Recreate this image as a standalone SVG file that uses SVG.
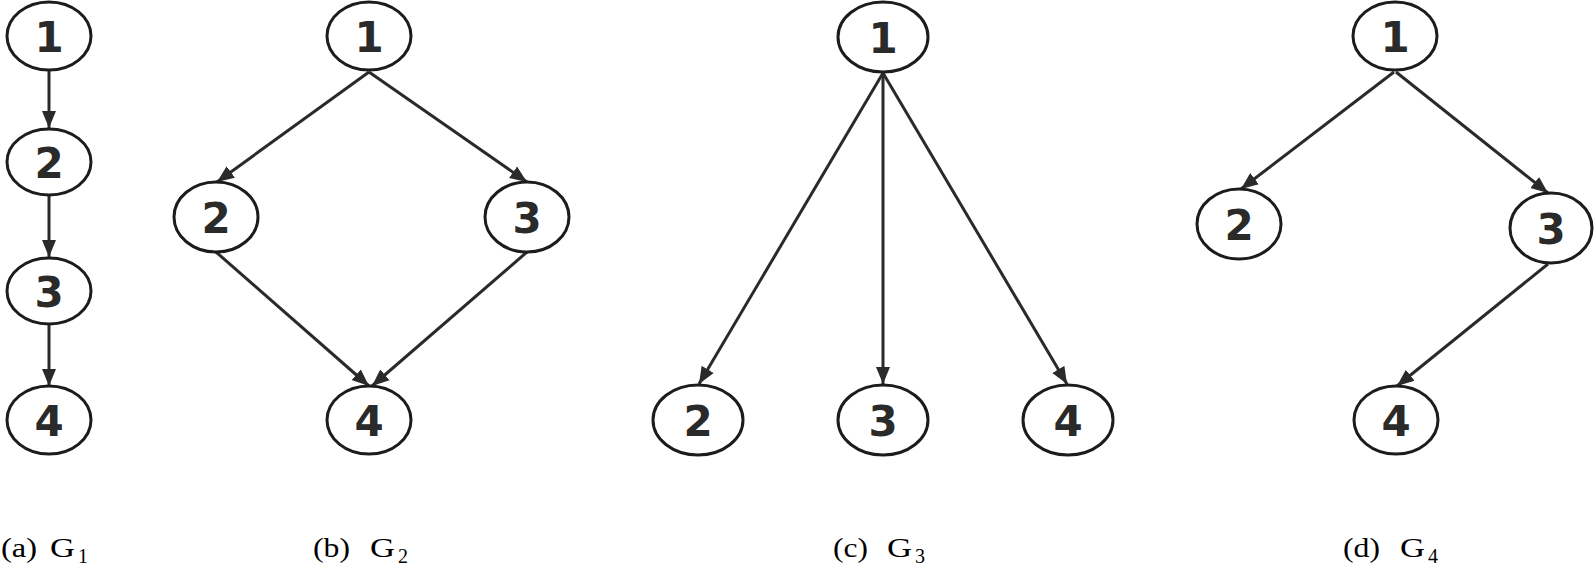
<svg xmlns="http://www.w3.org/2000/svg" width="1594" height="569" viewBox="0 0 1594 569">
<defs>
<style>
.node ellipse{fill:#fff;stroke:#1c1c1c;stroke-width:3}
.node text{font-family:"DejaVu Sans",sans-serif;font-weight:bold;font-size:42px;fill:#2a2a2a;text-anchor:middle}
.edges line{stroke:#2a2a2a;stroke-width:3;marker-end:url(#arr)}
.cap{font-family:"Liberation Serif","Times New Roman",serif;font-size:28px;fill:#000}
.sub{font-family:"Liberation Serif","Times New Roman",serif;font-size:20px;fill:#000}
</style>
<marker id="arr" markerUnits="userSpaceOnUse" markerWidth="18" markerHeight="16" viewBox="0 0 18 16" refX="17" refY="8" orient="auto">
<path d="M0,1 L17,8 L0,15 z" fill="#2a2a2a"/>
</marker>
</defs>
<rect width="1594" height="569" fill="#fff"/>
<g class="edges">
<line x1="49" y1="71" x2="49" y2="128"/>
<line x1="49" y1="196" x2="49" y2="257"/>
<line x1="49" y1="325" x2="49" y2="386"/>
<line x1="369" y1="72" x2="217" y2="182"/>
<line x1="369" y1="72" x2="527" y2="182"/>
<line x1="216" y1="252" x2="369" y2="386"/>
<line x1="527" y1="252" x2="372" y2="386"/>
<line x1="883" y1="73" x2="699" y2="384"/>
<line x1="883" y1="73" x2="883" y2="384"/>
<line x1="883" y1="73" x2="1067" y2="384"/>
<line x1="1394" y1="72" x2="1241" y2="189"/>
<line x1="1396" y1="72" x2="1548" y2="193"/>
<line x1="1548" y1="264" x2="1397" y2="386"/>
</g>
<g id="g1-n1" class="node"><ellipse cx="49" cy="36" rx="42" ry="34"/><text x="49" y="52">1</text></g>
<g id="g1-n2" class="node"><ellipse cx="49" cy="162" rx="42" ry="33"/><text x="49" y="178">2</text></g>
<g id="g1-n3" class="node"><ellipse cx="49" cy="291" rx="42" ry="33"/><text x="49" y="307">3</text></g>
<g id="g1-n4" class="node"><ellipse cx="49" cy="420" rx="42" ry="34"/><text x="49" y="436">4</text></g>
<g id="g2-n1" class="node"><ellipse cx="369" cy="36" rx="42" ry="34"/><text x="369" y="52">1</text></g>
<g id="g2-n2" class="node"><ellipse cx="216" cy="217" rx="42" ry="35"/><text x="216" y="233">2</text></g>
<g id="g2-n3" class="node"><ellipse cx="527" cy="217" rx="42" ry="35"/><text x="527" y="233">3</text></g>
<g id="g2-n4" class="node"><ellipse cx="369" cy="420" rx="42" ry="34"/><text x="369" y="436">4</text></g>
<g id="g3-n1" class="node"><ellipse cx="883" cy="37" rx="45" ry="35"/><text x="883" y="53">1</text></g>
<g id="g3-n2" class="node"><ellipse cx="698" cy="420" rx="45" ry="35"/><text x="698" y="436">2</text></g>
<g id="g3-n3" class="node"><ellipse cx="883" cy="420" rx="45" ry="35"/><text x="883" y="436">3</text></g>
<g id="g3-n4" class="node"><ellipse cx="1068" cy="420" rx="45" ry="35"/><text x="1068" y="436">4</text></g>
<g id="g4-n1" class="node"><ellipse cx="1395" cy="36" rx="42" ry="34"/><text x="1395" y="52">1</text></g>
<g id="g4-n2" class="node"><ellipse cx="1239" cy="224" rx="42" ry="35"/><text x="1239" y="240">2</text></g>
<g id="g4-n3" class="node"><ellipse cx="1551" cy="228" rx="41" ry="35"/><text x="1551" y="244">3</text></g>
<g id="g4-n4" class="node"><ellipse cx="1396" cy="420" rx="42" ry="34"/><text x="1396" y="436">4</text></g>
<g id="captions">
<text class="cap" x="1" y="557" textLength="36" lengthAdjust="spacingAndGlyphs">(a)</text>
<text class="cap" x="50" y="557" textLength="25" lengthAdjust="spacingAndGlyphs">G</text>
<text class="sub" x="78" y="563">1</text>
<text class="cap" x="313" y="557" textLength="37" lengthAdjust="spacingAndGlyphs">(b)</text>
<text class="cap" x="370" y="557" textLength="25" lengthAdjust="spacingAndGlyphs">G</text>
<text class="sub" x="398" y="563">2</text>
<text class="cap" x="833" y="557" textLength="35" lengthAdjust="spacingAndGlyphs">(c)</text>
<text class="cap" x="887" y="557" textLength="25" lengthAdjust="spacingAndGlyphs">G</text>
<text class="sub" x="915" y="563">3</text>
<text class="cap" x="1343" y="557" textLength="37" lengthAdjust="spacingAndGlyphs">(d)</text>
<text class="cap" x="1400" y="557" textLength="25" lengthAdjust="spacingAndGlyphs">G</text>
<text class="sub" x="1428" y="563">4</text>
</g>
</svg>
